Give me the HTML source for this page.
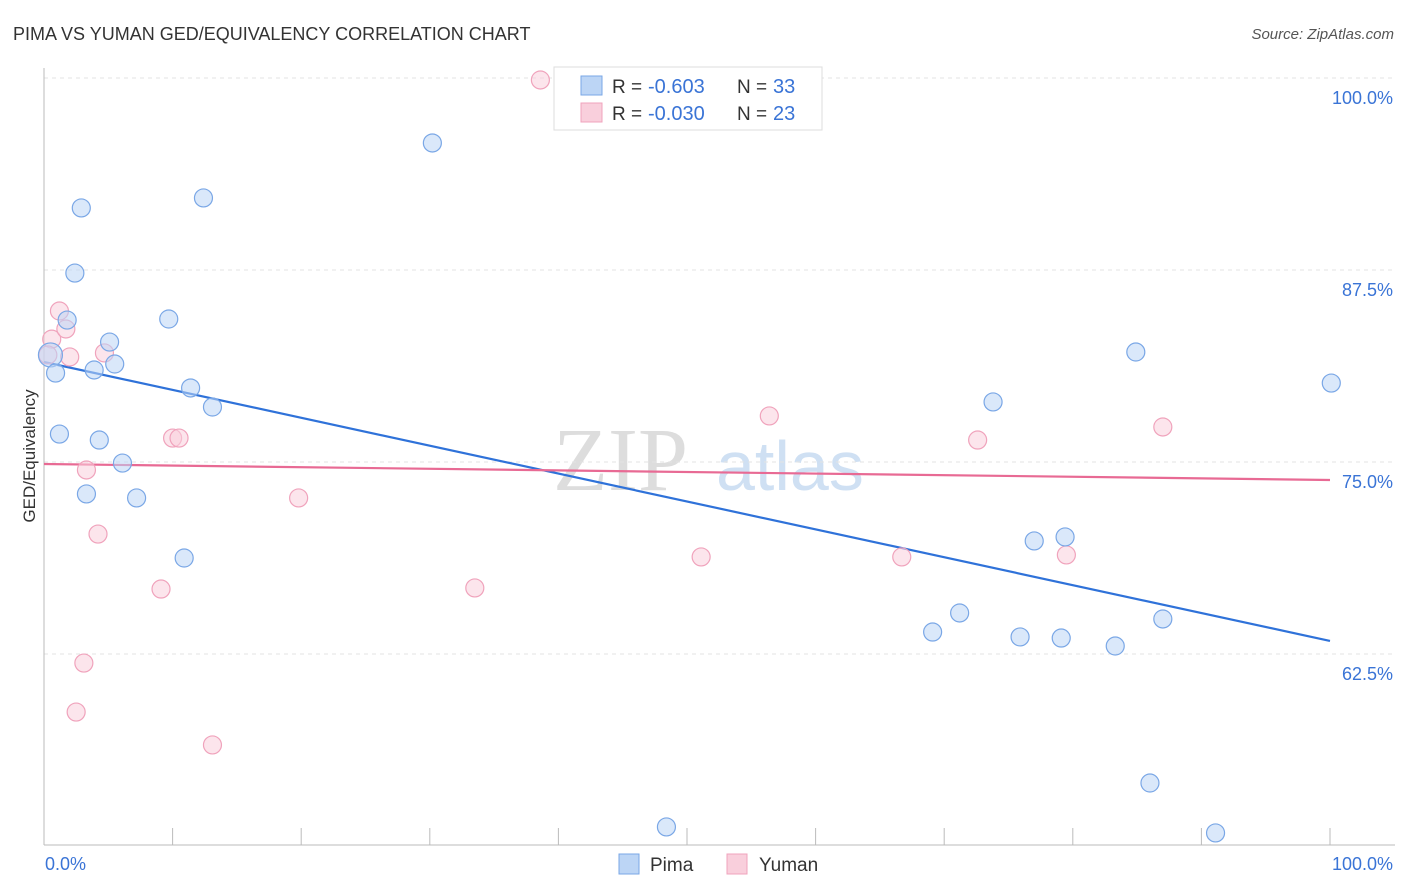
<!DOCTYPE html>
<html><head><meta charset="utf-8"><style>
body{margin:0;background:#fff;font-family:"Liberation Sans",sans-serif;}
svg{display:block}
</style></head><body>
<svg id="chart" width="1406" height="892">
<text x="13" y="40" font-size="18" fill="#333">PIMA VS YUMAN GED/EQUIVALENCY CORRELATION CHART</text>
<text x="1394" y="39" font-size="15" fill="#555" font-style="italic" text-anchor="end">Source: ZipAtlas.com</text>
<g><text x="553" y="490" font-size="90" font-family="Liberation Serif,serif" fill="#ddd">ZIP</text><text x="716" y="490" font-size="70" fill="#cfe0f3">atlas</text></g>
<g id="grid"></g><g id="axes"></g><g id="trend"></g><g id="pts"></g>
<text transform="translate(35,456) rotate(-90)" font-size="17" fill="#333" text-anchor="middle">GED/Equivalency</text>
<text x="45" y="870" font-size="18" fill="#3a74d6">0.0%</text>
<text x="1393" y="870" font-size="18" fill="#3a74d6" text-anchor="end">100.0%</text>
<g>
<rect x="554" y="67" width="268" height="63" fill="#fff" stroke="#ddd"/>
<rect x="581" y="76" width="21" height="19" fill="#bcd5f5" stroke="#7aa7e6"/>
<rect x="581" y="103" width="21" height="19" fill="#f9cfdc" stroke="#f0a3bc"/>
<text x="612" y="93" font-size="19" fill="#333">R =</text><text x="648" y="93" font-size="20" fill="#3a74d6">-0.603</text>
<text x="737" y="93" font-size="19" fill="#333">N =</text><text x="773" y="93" font-size="20" fill="#3a74d6">33</text>
<text x="612" y="120" font-size="19" fill="#333">R =</text><text x="648" y="120" font-size="20" fill="#3a74d6">-0.030</text>
<text x="737" y="120" font-size="19" fill="#333">N =</text><text x="773" y="120" font-size="20" fill="#3a74d6">23</text>
</g>
<g>
<rect x="619" y="854" width="20" height="20" fill="#bcd5f5" stroke="#7aa7e6"/>
<text x="650" y="871" font-size="19" fill="#333">Pima</text>
<rect x="727" y="854" width="20" height="20" fill="#f9cfdc" stroke="#f0a3bc"/>
<text x="759" y="871" font-size="19" fill="#333">Yuman</text>
</g>
</svg>
<script>
const yTicks=[100,87.5,75,62.5];
const yTickLabels=["100.0%","87.5%","75.0%","62.5%"];
const pimaX=[0.5,0.9,1.2,1.8,2.4,2.9,3.3,3.9,4.3,5.1,5.5,6.1,7.2,9.7,10.9,11.4,12.4,13.1,30.2,48.4,69.1,71.2,73.8,75.9,77.0,79.1,79.4,83.3,84.9,86.0,87.0,91.1,100.1];
const pimaY=[81.97,80.79,76.82,84.24,87.3,91.54,72.92,80.99,76.43,82.81,81.38,74.93,72.66,84.31,68.75,79.82,92.19,78.58,95.77,51.24,63.93,65.17,78.91,63.61,69.86,63.54,70.12,63.02,82.16,54.1,64.78,50.85,80.14];
const yumanX=[38.6,0.6,1.2,1.7,2.0,4.7,3.3,4.2,3.1,2.5,9.1,10.0,10.5,13.1,19.8,33.5,51.1,56.4,66.7,72.6,79.5,87.0,0.3];
const yumanY=[99.87,83.0,84.83,83.66,81.84,82.1,74.48,70.31,61.91,58.72,66.73,76.56,76.56,56.58,72.66,66.8,68.82,78.0,68.82,76.43,68.95,77.28,81.97];
const pimaTrend=[81.51,63.35];
const yumanTrend=[74.87,73.83];
const NS="http://www.w3.org/2000/svg";
const X=v=>44+v*12.86, Y=v=>78+(100-v)*15.36;
function mk(tag,at,par){const e=document.createElementNS(NS,tag);for(const k in at)e.setAttribute(k,at[k]);document.getElementById(par).appendChild(e);return e;}
yTicks.forEach((t,i)=>{
 const l=mk('line',{x1:44,x2:1395,y1:Y(t),y2:Y(t),stroke:'#e3e3e3','stroke-dasharray':'4,4'},'grid');
 
 
 const tx=mk('text',{x:1393,y:Y(t)+26,'font-size':18,fill:'#3a74d6','text-anchor':'end'},'grid');
 tx.textContent=yTickLabels[i];
 
 
});
const ya=mk('line',{x1:44,x2:44,y1:68,y2:845,stroke:'#bbb'},'axes');


const xa=mk('line',{x1:44,x2:1395,y1:845,y2:845,stroke:'#bbb'},'axes');


for(let i=1;i<=10;i++){const t=mk('line',{x1:X(i*10),x2:X(i*10),y1:828,y2:845,stroke:'#bbb'},'axes');
 
 }
function pts(xs,ys,fill,stroke,name){xs.forEach((x,i)=>{const r=(i===0&&name==='pima-point')?12:9;
 const c=mk('circle',{cx:X(x),cy:Y(ys[i]),r:r,fill:fill,'fill-opacity':0.55,stroke:stroke,'stroke-width':1.2},'pts');
 
 });}
pts(yumanX,yumanY,'#f9cfdc','#f0a3bc','yuman-point');
pts(pimaX,pimaY,'#bcd5f5','#7aa7e6','pima-point');
const t1=mk('line',{x1:X(0),x2:X(100),y1:Y(pimaTrend[0]),y2:Y(pimaTrend[1]),stroke:'#2f72d9','stroke-width':2.2},'trend');


const t2=mk('line',{x1:X(0),x2:X(100),y1:Y(yumanTrend[0]),y2:Y(yumanTrend[1]),stroke:'#e86a94','stroke-width':2.2},'trend');


</script>
</body></html>
